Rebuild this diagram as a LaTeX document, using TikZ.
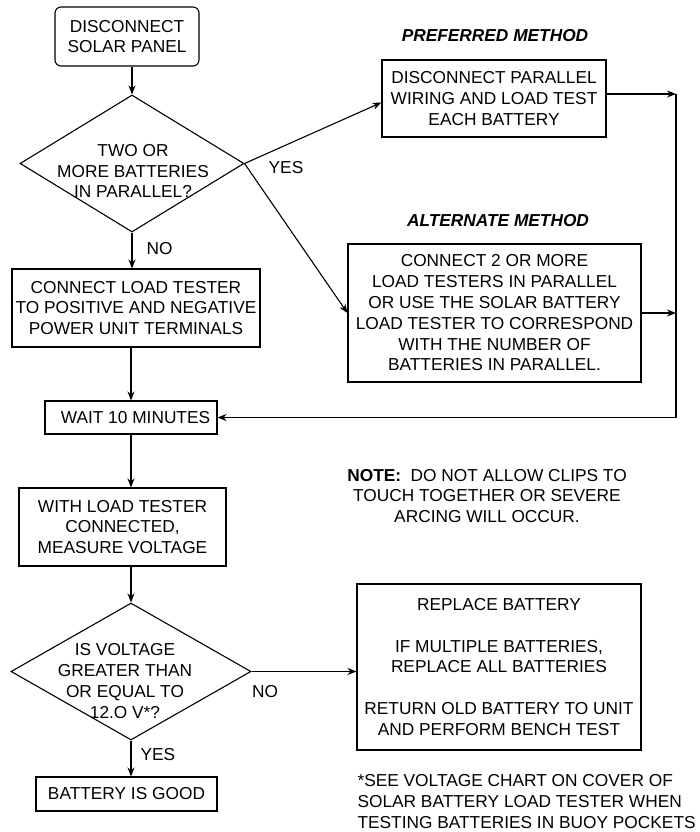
\documentclass[tikz,border=0pt]{standalone}
\usepackage{fontspec}
\setmainfont{Liberation Sans}
\usetikzlibrary{arrows.meta,shapes.geometric}
\begin{document}
\begin{tikzpicture}[x=1pt,y=-1pt,line width=1.1pt,>={Stealth[length=9pt,width=7pt]},
        every node/.style={font=\fontsize{17.3pt}{20.8pt}\selectfont,align=center,inner sep=0pt},
        stepbox/.style={draw,rectangle},
        ask/.style={draw,diamond,aspect=1}]
    \useasboundingbox (0,0) rectangle (699,832);
    \node[stepbox,rounded corners=6pt,minimum width=144pt,minimum height=59pt] (solar) at (127,36.5) {DISCONNECT\\SOLAR PANEL};
    \node[ask,minimum width=224pt,minimum height=137pt] (dpar) at (132,163.5) {};
    \node (tpar) at (133,171) {TWO OR\\MORE BATTERIES\\IN PARALLEL?};
    \node[stepbox,minimum width=248pt,minimum height=78pt] (conn) at (136,308) {CONNECT LOAD TESTER\\TO POSITIVE AND NEGATIVE\\POWER UNIT TERMINALS};
    \node[stepbox,minimum width=172pt,minimum height=33pt] (wait) at (131,417.5) {\hspace*{9pt}WAIT 10 MINUTES};
    \node[stepbox,minimum width=207pt,minimum height=78pt] (meas) at (122.5,527) {WITH LOAD TESTER\\CONNECTED,\\MEASURE VOLTAGE};
    \node[ask,minimum width=240pt,minimum height=137pt] (dvol) at (131,671.5) {};
    \node (tvol) at (125,681) {IS VOLTAGE\\GREATER THAN\\OR EQUAL TO\\12.O V*?};
    \node[stepbox,minimum width=181pt,minimum height=34pt] (good) at (126.5,794) {BATTERY IS GOOD};
    \node (tpref) at (495,36) {\bfseries\itshape PREFERRED METHOD};
    \node[stepbox,minimum width=224pt,minimum height=77pt] (pref) at (494,98.5) {DISCONNECT PARALLEL\\WIRING AND LOAD TEST\\EACH BATTERY};
    \node (talt) at (498,221) {\bfseries\itshape ALTERNATE METHOD};
    \node[stepbox,minimum width=293pt,minimum height=138pt] (alt) at (494.5,313) {CONNECT 2 OR MORE\\LOAD TESTERS IN PARALLEL\\OR USE THE SOLAR BATTERY\\LOAD TESTER TO CORRESPOND\\WITH THE NUMBER OF\\BATTERIES IN PARALLEL.};
    \node (note) at (487,496) {\textbf{NOTE:}\ \ DO NOT ALLOW CLIPS TO\\TOUCH TOGETHER OR SEVERE\\ARCING WILL OCCUR.};
    \node[stepbox,minimum width=284pt,minimum height=166pt] (repl) at (499,667) {REPLACE BATTERY\\[20.8pt]IF MULTIPLE BATTERIES,\\REPLACE ALL BATTERIES\\[20.8pt]RETURN OLD BATTERY TO UNIT\\AND PERFORM BENCH TEST};
    \node[anchor=west,align=left] (foot) at (357,801.5) {*SEE VOLTAGE CHART ON COVER OF\\SOLAR BATTERY LOAD TESTER WHEN\\TESTING BATTERIES IN BUOY POCKETS};
    \coordinate (btop) at (676,94);
    \coordinate (bbot) at (676,417.5);
    \draw[->] (solar.south -| dpar.north) -- (dpar.north);
    \draw[->] (dpar.south) -- (dpar.south |- conn.north) node[pos=0.45,right=14pt] (lno) {NO};
    \draw[->] (dpar.east) -- ([yshift=-4pt]pref.west);
    \draw[->] (dpar.east) -- (alt.west);
    \node (lyes) at (286,168) {YES};
    \draw[->] (conn.south -| wait.north) -- (wait.north);
    \draw[->] (wait.south) -- (wait.south |- meas.north);
    \draw[->] (meas.south -| dvol.north) -- (dvol.north);
    \draw[->] (dvol.south) -- (dvol.south |- good.north) node[pos=0.4,right=9pt] (lyes2) {YES};
    \draw[->] (dvol.east) -- (dvol.east -| repl.west);
    \node (lno2) at (265,692) {NO};
    \draw[->] ([yshift=4.5pt]pref.east) -- (btop);
    \draw[->] (alt.east) -- (alt.east -| btop);
    \draw[->] (btop) -- (bbot) -- (wait.east);
\end{tikzpicture}
\end{document}
